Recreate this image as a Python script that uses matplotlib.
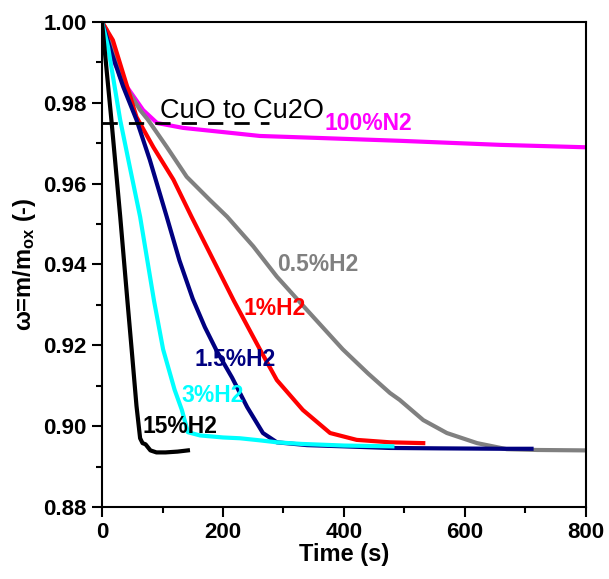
import matplotlib
matplotlib.use("Agg")
import matplotlib.pyplot as plt
from matplotlib.ticker import MultipleLocator

plt.rcParams['font.family'] = ['Liberation Sans', 'DejaVu Sans']
plt.rcParams['mathtext.fontset'] = 'custom'
plt.rcParams['mathtext.rm'] = 'Liberation Sans:bold'
plt.rcParams['mathtext.default'] = 'rm'

# Reduction curves: time (s) and relative mass omega
t_15 = [0, 16, 30, 42, 49, 57, 63, 67, 72, 80, 90, 105, 125, 142]
w_15 = [1.0, 0.975, 0.952, 0.931, 0.919, 0.905, 0.897, 0.8958,
        0.8955, 0.894, 0.8935, 0.8935, 0.8937, 0.894]

t_3 = [0, 10, 30, 46, 63, 86, 101, 120, 132, 142, 162, 200, 228, 260, 289,
       330, 400, 480]
w_3 = [1.0, 0.9938, 0.9758, 0.9641, 0.9518, 0.931, 0.919, 0.909, 0.904,
       0.8985, 0.8977, 0.8972, 0.897, 0.8965, 0.896, 0.8956, 0.8952, 0.895]

t_15h = [0, 16, 35, 57, 79, 107, 128, 150, 170, 190, 215, 240, 266, 289, 339,
         400, 476, 560, 663, 710]
w_15h = [1.0, 0.9923, 0.984, 0.9758, 0.9659, 0.9518, 0.941, 0.9315, 0.9245,
         0.9185, 0.912, 0.9047, 0.8983, 0.896, 0.8953, 0.895, 0.8946, 0.8945,
         0.8944, 0.8944]

t_1 = [0, 18, 57, 85, 118, 148, 218, 261, 289, 332, 377, 421, 476, 531]
w_1 = [1.0, 0.9955, 0.9765, 0.969, 0.961, 0.9518, 0.931, 0.919, 0.9114,
       0.904, 0.8983, 0.8966, 0.896, 0.8958]

t_05 = [0, 8, 30, 63, 76, 107, 140, 178, 207, 250, 289, 339, 398, 440,
        476, 492, 531, 570, 620, 669, 720, 800]
w_05 = [1.0, 0.998, 0.9864, 0.9782, 0.9758, 0.9691, 0.9617, 0.956, 0.9518,
        0.9445, 0.937, 0.9287, 0.919, 0.913, 0.9082, 0.9065, 0.9015, 0.8983,
        0.8958, 0.8943, 0.8941, 0.894]

t_n2 = [0, 18, 41, 68, 91, 134, 217, 261, 360, 493, 658, 800]
w_n2 = [1.0, 0.9906, 0.984, 0.9782, 0.975, 0.9738, 0.9725, 0.9718, 0.9713,
        0.9706, 0.9696, 0.969]

cuo_level = 0.975
cuo_span = [0, 276]

fig = plt.figure(figsize=(6.09, 5.79), dpi=100)
ax = fig.add_axes([0.1675, 0.1244, 0.7947, 0.8376])

lw = 3.0
ax.plot(t_n2, w_n2, color='#FF00FF', lw=lw)
ax.plot(t_05, w_05, color='#808080', lw=lw)
ax.plot(t_1, w_1, color='#FF0000', lw=lw)
ax.plot(t_15h, w_15h, color='#000080', lw=lw)
ax.plot(t_3, w_3, color='#00FFFF', lw=lw)
ax.plot(t_15, w_15, color='black', lw=lw)

ax.plot(cuo_span, [cuo_level, cuo_level], color='black', lw=2,
        ls=(0, (5.5, 4)))
ax.text(96, 0.9763, 'CuO to Cu2O', fontsize=19.5, color='black')

lab = dict(fontsize=16.5, fontweight='bold', ha='center', va='center')
ax.text(441, 0.975, '100%N2', color='#FF00FF', **lab)
ax.text(357, 0.940, '0.5%H2', color='#808080', **lab)
ax.text(286, 0.9292, '1%H2', color='#FF0000', **lab)
ax.text(220, 0.9164, '1.5%H2', color='#000080', **lab)
ax.text(183, 0.9077, '3%H2', color='#00FFFF', **lab)
ax.text(129, 0.9000, '15%H2', color='black', **lab)

ax.set_xlim(0, 800)
ax.set_ylim(0.88, 1.00)
ax.xaxis.set_major_locator(MultipleLocator(200))
ax.xaxis.set_minor_locator(MultipleLocator(100))
ax.yaxis.set_major_locator(MultipleLocator(0.02))
ax.yaxis.set_minor_locator(MultipleLocator(0.01))
ax.yaxis.set_major_formatter(matplotlib.ticker.FormatStrFormatter('%.2f'))
ax.tick_params(which='major', direction='out', length=7, width=1.5,
               labelsize=16, pad=4)
ax.tick_params(which='minor', direction='out', length=4, width=1.5)
for lbl in ax.get_xticklabels() + ax.get_yticklabels():
    lbl.set_fontweight('bold')
for sp in ax.spines.values():
    sp.set_linewidth(1.5)

ax.set_xlabel('Time (s)', fontsize=17, fontweight='bold', labelpad=0)
ax.set_ylabel(r'$\omega$=m/m$_{ox}$ (-)', fontsize=17, fontweight='bold',
              labelpad=4)

fig.savefig('out.png', dpi=100)
